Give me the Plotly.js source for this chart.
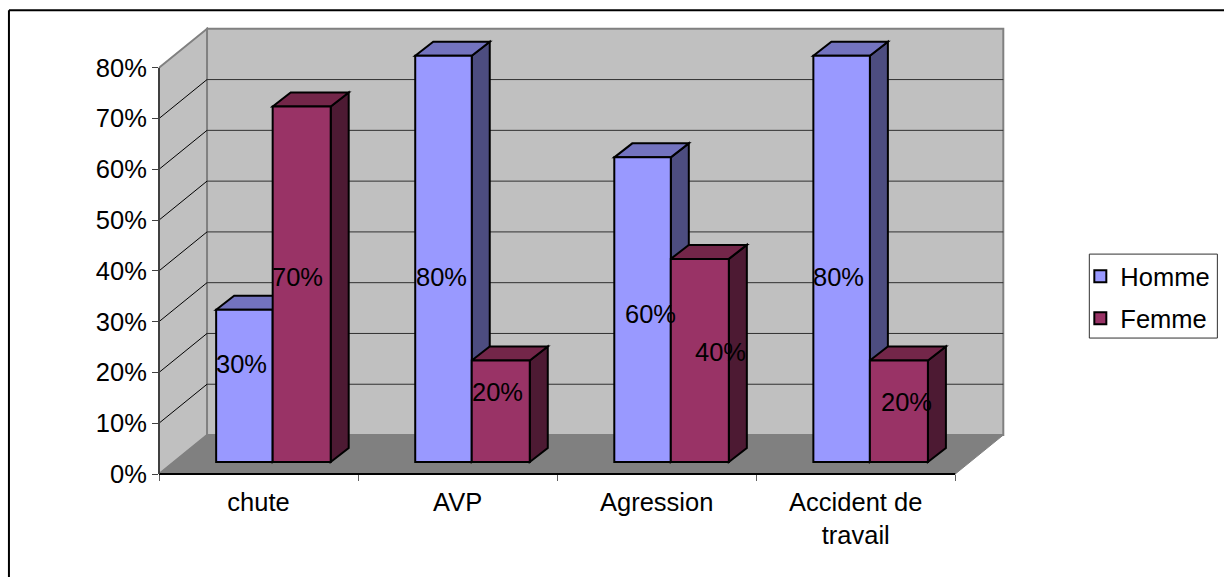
<!DOCTYPE html>
<html>
<head>
<meta charset="utf-8">
<script src="https://cdn.plot.ly/plotly-3.0.1.min.js"></script>
<style>html,body{margin:0;padding:0;background:#fff}#chart{width:1224px;height:577px}</style>
</head>
<body>
<div id="chart"></div>
<script>
const categories = ['chute', 'AVP', 'Agression', 'Accident de<br>travail'];
const homme = [30, 80, 60, 80];
const femme = [70, 20, 40, 20];
const yTicks = [0, 10, 20, 30, 40, 50, 60, 70, 80];

// Rendered geometry (pixels per unit, plot origin)
const W = 1224, H = 577, X0 = 159, Y0 = 474, PX = 199, PY = 5.08;
const xMax = 4.3, yMax = 90;
const plotW = xMax * PX, plotH = yMax * PY;
const fontFamily = 'Liberation Sans, Arial, sans-serif';
const fontSize = 25.5;

// Oblique projection, in axis units
const wallDx = 48 / PX, wallDy = 39 / PY;
const barDx = 18 / PX, barDy = 14 / PY;
const barBase = 12 / PY;
const hommeW = 56.5 / PX, femmeW = 58 / PX;
const groupCentre = categories.map((c, i) => i + 0.571);

const px = (a) => (a - X0) / plotW;
const py = (a) => (Y0 - a) / plotH;
const poly = (pts) => 'M' + pts.map(p => p[0] + ',' + p[1]).join('L') + 'Z';

const shapes = [];
function addPoly(pts, fill, lineColor, lineWidth) {
  shapes.push({type: 'path', xref: 'x', yref: 'y', layer: 'below', path: poly(pts),
    fillcolor: fill, line: {color: lineColor, width: lineWidth}});
}
function addLine(x0, y0, x1, y1, color, width) {
  shapes.push({type: 'line', xref: 'x', yref: 'y', layer: 'below', x0, y0, x1, y1,
    line: {color, width}});
}

const yTop = yTicks[yTicks.length - 1];
const xEnd = categories.length;

// Walls and floor
addPoly([[wallDx, wallDy], [xEnd + wallDx, wallDy], [xEnd + wallDx, yTop + wallDy], [wallDx, yTop + wallDy]], '#C0C0C0', '#808080', 2);
addPoly([[0, 0], [wallDx, wallDy], [wallDx, yTop + wallDy], [0, yTop]], '#C0C0C0', '#808080', 2);
addPoly([[0, 0], [xEnd, 0], [xEnd + wallDx, wallDy], [wallDx, wallDy]], '#808080', '#808080', 1);

// Gridlines
yTicks.slice(1, -1).forEach(v => {
  addLine(0, v, wallDx, v + wallDy, '#000000', 1);
  addLine(wallDx, v + wallDy, xEnd + wallDx, v + wallDy, '#303030', 1);
});

// Bar depth faces
function addBarFaces(values, left, width, topColor, sideColor) {
  values.forEach((v, i) => {
    const a = left(i), b = a + width, t = barBase + v;
    addPoly([[b, barBase], [b + barDx, barBase + barDy], [b + barDx, t + barDy], [b, t]], sideColor, '#000000', 2);
    addPoly([[a, t], [a + barDx, t + barDy], [b + barDx, t + barDy], [b, t]], topColor, '#000000', 2);
  });
}
addBarFaces(homme, i => groupCentre[i] - hommeW, hommeW, '#7373BF', '#4D4D80');
addBarFaces(femme, i => groupCentre[i], femmeW, '#732649', '#4D1A33');

// Axis lines, frame and legend box, in paper coordinates so that they are not clipped
const paperLine = (x0, y0, x1, y1, color, width) => shapes.push({type: 'line', xref: 'paper', yref: 'paper',
  layer: 'above', x0, y0, x1, y1, line: {color, width}});
paperLine(0, 0, xEnd / xMax, 0, '#000000', 2);
paperLine(0, 0, 0, yTop / yMax, '#404040', 2);
paperLine(px(9), py(10), px(W), py(10), '#000000', 2);
paperLine(px(9), py(10), px(9), py(H), '#000000', 2);
shapes.push({type: 'rect', xref: 'paper', yref: 'paper', layer: 'below',
  x0: px(1089), x1: px(1217), y0: py(254), y1: py(338), fillcolor: '#fff', line: {color: '#303030', width: 1}});

// Data labels
const labelX = [0.412, 0.698, 1.417, 1.698, 2.467, 2.819, 3.412, 3.754];
const labelY = [21.6, 38.7, 38.7, 16.1, 31.6, 24.0, 38.7, 14.2];
const labelValues = [homme[0], femme[0], homme[1], femme[1], homme[2], femme[2], homme[3], femme[3]];
const annotations = labelValues.map((v, i) => ({
  x: labelX[i], y: labelY[i], xref: 'x', yref: 'y', text: v + '%', showarrow: false,
  font: {family: fontFamily, size: fontSize, color: '#000'}
}));

const bar = (name, y, color, offset, width) => ({
  type: 'bar', name, x: groupCentre, y, base: barBase, legendgroup: name, offset, width,
  marker: {color, line: {color: '#000', width: 2}}, hoverinfo: 'skip'
});

const layout = {
  width: W, height: H,
  margin: {l: X0, t: Y0 - plotH, r: W - X0 - plotW, b: H - Y0, pad: 0, autoexpand: false},
  paper_bgcolor: '#fff', plot_bgcolor: 'rgba(0,0,0,0)',
  font: {family: fontFamily, size: fontSize, color: '#000'},
  barmode: 'overlay',
  xaxis: {
    range: [0, xMax], type: 'linear', tickmode: 'array', automargin: false,
    tickvals: categories.map((c, i) => i + 0.5), ticktext: categories,
    ticks: '', showgrid: false, zeroline: false, showline: false,
    ticklabelstandoff: 10,
    minor: {tickmode: 'array', tickvals: [0, 1, 2, 3, 4], ticks: 'outside', ticklen: 6, tickwidth: 1, tickcolor: '#606060', showgrid: false}
  },
  yaxis: {
    range: [0, yMax], tickmode: 'array', tickvals: yTicks, ticktext: yTicks.map(v => v + '%'), automargin: false,
    ticks: 'outside', ticklen: 6, tickwidth: 1, tickcolor: '#404040',
    showgrid: false, zeroline: false, showline: false
  },
  legend: {
    x: px(1080), y: py(253), xanchor: 'left', yanchor: 'top',
    bgcolor: 'rgba(0,0,0,0)', borderwidth: 0,
    traceorder: 'grouped', tracegroupgap: 6,
    font: {family: fontFamily, size: fontSize, color: '#000'}
  },
  shapes, annotations
};

Plotly.newPlot('chart', [bar('Homme', homme, '#9999FF', -hommeW, hommeW), bar('Femme', femme, '#993366', 0, femmeW)], layout, {displayModeBar: false});
</script>
</body>
</html>
